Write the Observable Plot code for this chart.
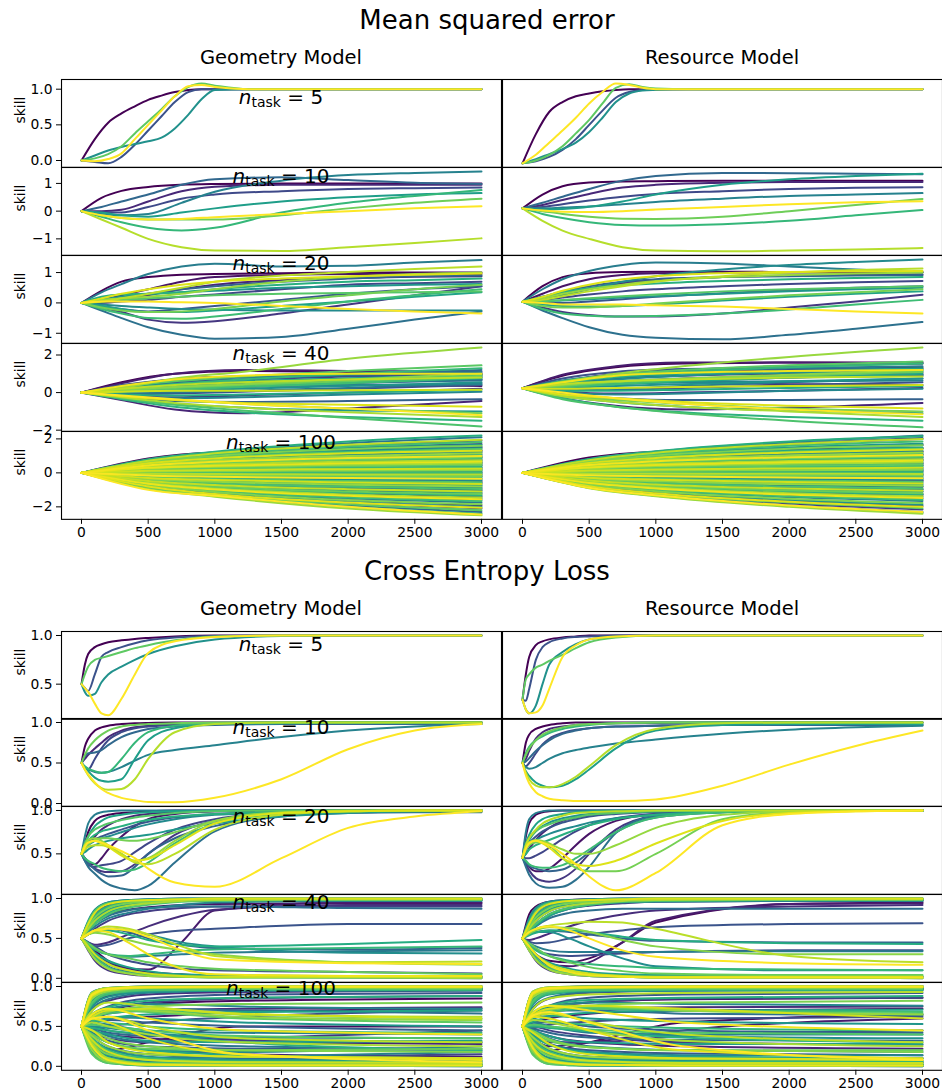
<!DOCTYPE html>
<html>
<head>
<meta charset="utf-8">
<script src="https://cdn.jsdelivr.net/npm/d3@7"></script>
<script src="https://cdn.jsdelivr.net/npm/@observablehq/plot@0.6"></script>
<style>
  body { margin: 0; background: #fff; }
  #fig { position: relative; width: 942px; height: 1090px; overflow: hidden; font-family: "DejaVu Sans", sans-serif; }
</style>
</head>
<body>
<div id="fig"></div>
<script>
// ---- training steps at which each skill curve is sampled ----
const xsA = [0,100,200,300,400,500,600,700,800,900,1000,1250,1500,2000,3000];
const xsB = [0,150,300,500,750,1000,1500,2000,2500,3000];
const xsC = [0,300,700,1200,2000,3000];
const xsD = [0,500,1000,2000,3000];
const xsE = [0,25,50,100,150,200,300,400,500,700,1000,1500,2000,2500,3000];
const xsF = [0,50,100,200,350,500,750,1000,2000,3000];
const xsG = [0,80,200,500,1200,3000];
const stepTicks = [0,500,1000,1500,2000,2500,3000];

// ---- Mean squared error, n_task = 5 ----
const mseGeo5 = [
  [0,.3,.53,.66,.76,.85,.91,.96,.99,1,1,1,1,1,1],
  [0,-.02,-.04,.05,.22,.42,.62,.82,.96,1,1,1,1,1,1],
  [0,.07,.14,.19,.23,.27,.32,.45,.64,.86,.99,1,1,1,1],
  [0,.03,.09,.2,.38,.55,.72,.9,1.03,1.08,1.05,1,1,1,1],
  [0,-.01,.02,.1,.3,.5,.7,.9,1.04,1.06,1.03,1,1,1,1]
];
const mseRes5 = [
  [-.04,.37,.68,.82,.9,.94,.97,.99,1,1,1,1,1,1,1],
  [-.04,-.01,.05,.15,.3,.5,.7,.88,.96,.99,1,1,1,1,1],
  [-.04,.02,.09,.16,.25,.4,.6,.82,.94,.98,.99,1,1,1,1],
  [-.04,0,.08,.2,.38,.57,.8,1.02,1.07,1.03,1.01,1,1,1,1],
  [-.04,.08,.25,.42,.6,.8,.96,1.08,1.06,1.02,1,1,1,1,1]
];

// ---- Mean squared error, n_task = 10 ----
const mseGeo10 = [
  [0,.48,.73,.87,.95,.98,1,1,1,1],
  [0,0,.05,.35,.72,.88,.95,.95,.95,.95],
  [0,-.05,-.05,.15,.45,.6,.72,.8,.83,.85],
  [0,.15,.35,.6,.95,1.15,1.22,1.12,1.02,.98],
  [0,-.1,-.15,-.1,.3,.7,1.1,1.3,1.38,1.43],
  [0,-.05,-.15,-.2,-.05,.1,.35,.5,.6,.65],
  [0,-.2,-.4,-.6,-.7,-.6,-.05,.3,.55,.76],
  [0,-.15,-.25,-.3,-.3,-.3,-.15,.1,.3,.45],
  [0,-.3,-.6,-1,-1.3,-1.42,-1.44,-1.3,-1.15,-.98],
  [0,-.15,-.25,-.3,-.28,-.22,-.1,0,.1,.18]
];
const mseRes10 = [
  [.1,.6,.9,1.03,1.07,1.08,1.1,1.1,1.1,1.1],
  [.1,.22,.4,.62,.85,.95,1.02,1.05,1.05,1.05],
  [.1,.15,.25,.38,.52,.62,.72,.8,.84,.86],
  [.1,.3,.52,.8,1.1,1.27,1.38,1.37,1.35,1.33],
  [.1,.1,.13,.17,.25,.33,.45,.55,.6,.65],
  [.1,.05,.08,.16,.35,.6,.95,1.15,1.27,1.35],
  [.1,-.1,-.25,-.4,-.5,-.52,-.47,-.35,-.15,.04],
  [.1,0,-.1,-.2,-.27,-.28,-.2,0,.22,.44],
  [.1,-.35,-.7,-1,-1.3,-1.42,-1.45,-1.42,-1.38,-1.33],
  [.1,.02,-.02,-.03,0,.06,.15,.25,.32,.36]
];

// ---- Mean squared error, n_task = 20 ----
const mseGeo20 = [
  [0,.4,.7,.85,.93,.95,.98,1,1,1],
  [0,.1,.25,.45,.7,.85,.92,.95,.95,.95],
  [0,.05,.1,.25,.45,.6,.75,.82,.86,.88],
  [0,-.15,-.3,-.55,-.65,-.6,-.35,-.05,.25,.55],
  [0,0,.05,.1,.2,.28,.45,.6,.65,.7],
  [0,-.1,-.2,-.28,-.2,-.1,.1,.3,.45,.55],
  [0,.05,.15,.3,.45,.55,.7,.8,.88,.9],
  [0,-.25,-.5,-.8,-1.05,-1.18,-1.12,-.85,-.55,-.28],
  [0,.35,.62,.95,1.2,1.29,1.2,1.22,1.33,1.41],
  [0,-.05,-.1,-.15,-.2,-.22,-.25,-.25,-.25,-.25],
  [0,.1,.2,.3,.35,.4,.5,.55,.6,.62],
  [0,-.1,-.2,-.3,-.3,-.25,-.1,.05,.2,.35],
  [0,.2,.28,.3,.35,.45,.6,.7,.75,.8],
  [0,-.2,-.35,-.5,-.52,-.45,-.2,.05,.25,.45],
  [0,.05,.1,.15,.2,.25,.3,.33,.35,.38],
  [0,-.15,-.25,-.3,-.28,-.2,.05,.25,.45,.6],
  [0,.1,.15,.2,.3,.45,.7,.85,.95,1],
  [0,.05,.15,.3,.5,.7,.9,1.02,1.12,1.2],
  [0,.15,.3,.45,.6,.7,.8,.88,.93,.97],
  [0,.05,.05,.05,.02,0,-.1,-.2,-.28,-.35]
];
const mseRes20 = [
  [.04,.55,.85,.98,1.02,1.03,1.03,1.02,1.02,1.02],
  [.04,.3,.55,.78,.92,.98,1,1,1,1],
  [.04,.15,.3,.48,.65,.75,.85,.9,.92,.93],
  [.04,-.15,-.3,-.4,-.45,-.45,-.35,-.15,.05,.27],
  [.04,.1,.18,.28,.38,.45,.55,.62,.68,.72],
  [.04,0,0,.05,.12,.2,.32,.42,.5,.55],
  [.04,.2,.38,.55,.7,.78,.85,.88,.9,.92],
  [.04,-.25,-.5,-.8,-1.05,-1.15,-1.2,-1.05,-.85,-.63],
  [.04,.45,.78,1.05,1.25,1.33,1.3,1.2,1.1,1],
  [.04,.1,.25,.45,.7,.88,1.1,1.25,1.35,1.43],
  [.04,.05,.08,.12,.18,.22,.3,.38,.45,.5],
  [.04,-.05,-.1,-.12,-.1,-.05,.08,.2,.3,.38],
  [.04,.2,.35,.48,.58,.64,.72,.78,.82,.85],
  [.04,-.2,-.35,-.42,-.45,-.43,-.35,-.22,-.05,.1],
  [.04,.05,.1,.15,.22,.28,.38,.45,.5,.55],
  [.04,-.1,-.15,-.15,-.1,-.02,.12,.25,.35,.45],
  [.04,.15,.3,.45,.6,.72,.85,.92,.97,1],
  [.04,.1,.22,.38,.55,.7,.88,1,1.08,1.13],
  [.04,.2,.4,.6,.78,.88,.98,1.02,1.04,1.05],
  [.04,0,-.05,-.05,-.05,-.08,-.12,-.2,-.28,-.35]
];

// ---- Mean squared error, n_task = 40 ----
const mseGeo40 = [
  [0,.55,1,1.15,1.1,1],[0,.35,.7,.85,.9,.95],[0,.1,.2,.3,.4,.35],[0,.5,1,1.2,1.15,1.1],
  [0,-.4,-.9,-1.1,-.85,-.45],[0,.2,.35,.5,.6,.7],[0,-.15,-.25,-.15,0,.2],[0,.3,.55,.7,.85,1],
  [0,.15,.3,.45,.6,.8],[0,-.1,-.05,.05,.2,.4],[0,.4,.7,.85,.9,.85],[0,.05,.15,.3,.5,.7],
  [0,-.25,-.45,-.5,-.45,-.35],[0,.25,.5,.7,.95,1.2],[0,.1,.25,.4,.55,.65],[0,-.05,0,.1,.25,.5],
  [0,.3,.6,.8,.95,1.1],[0,.2,.3,.35,.4,.45],[0,-.2,-.3,-.25,-.1,.05],[0,.15,.35,.55,.75,.9],
  [0,.05,.1,.2,.35,.55],[0,-.3,-.6,-.8,-.95,-1],[0,.25,.45,.6,.75,.95],[0,.1,.2,.35,.55,.75],
  [0,-.1,-.15,-.1,0,.15],[0,-.35,-.75,-1.05,-1.3,-1.5],[0,.2,.45,.7,1,1.3],[0,.05,.15,.3,.5,.8],
  [0,-.3,-.65,-.95,-1.35,-1.8],[0,.3,.6,.85,1.15,1.45],[0,.1,.25,.4,.6,.9],[0,-.2,-.4,-.6,-.85,-1.1],
  [0,.15,.3,.45,.7,1],[0,.25,.75,1.1,1.8,2.4],[0,-.25,-.55,-.8,-1.05,-1.3],[0,.2,.4,.55,.7,.8],
  [0,.05,.1,.1,.12,.15],[0,-.2,-.4,-.55,-.65,-.75],[0,.35,.7,.9,1,1],[0,-.15,-.35,-.6,-.85,-1.2]
];
const mseRes40 = [
  [.23,.9,1.35,1.55,1.6,1.6],[.23,.6,1,1.2,1.3,1.35],[.23,.5,.6,.55,.45,.4],[.23,.95,1.4,1.6,1.6,1.55],
  [.23,-.3,-.7,-.9,-.8,-.55],[.23,.5,.75,.9,1,1.05],[.23,.05,-.05,0,.1,.25],[.23,.6,.9,1.1,1.2,1.25],
  [.23,.45,.6,.75,.85,.95],[.23,.15,.15,.25,.4,.55],[.23,.75,1.1,1.25,1.3,1.25],[.23,.3,.45,.6,.8,.95],
  [.23,-.1,-.3,-.4,-.4,-.35],[.23,.6,.95,1.2,1.4,1.55],[.23,.35,.5,.65,.8,.9],[.23,.1,.2,.35,.55,.75],
  [.23,.65,.95,1.15,1.3,1.4],[.23,.4,.5,.55,.6,.65],[.23,0,-.1,-.05,.1,.2],[.23,.45,.7,.9,1.05,1.15],
  [.23,.25,.35,.45,.6,.75],[.23,-.2,-.5,-.75,-.95,-1.1],[.23,.55,.8,1,1.15,1.3],[.23,.3,.45,.6,.8,1],
  [.23,.1,.1,.15,.25,.35],[.23,-.3,-.75,-1.05,-1.3,-1.5],[.23,.5,.85,1.1,1.35,1.55],[.23,.3,.45,.65,.9,1.15],
  [.23,-.35,-.75,-1.1,-1.5,-1.85],[.23,.6,.95,1.2,1.45,1.65],[.23,.35,.55,.7,.9,1.1],[.23,-.15,-.4,-.6,-.85,-1],
  [.23,.4,.6,.75,.95,1.2],[.23,.55,1,1.4,1.9,2.4],[.23,-.2,-.5,-.75,-1,-1.3],[.23,.45,.6,.7,.8,.85],
  [.23,.2,.25,.3,.35,.4],[.23,-.1,-.3,-.5,-.7,-.85],[.23,.55,.9,1.05,1.15,1.2],[.23,0,-.3,-.6,-.9,-1.15]
];

// ---- Mean squared error, n_task = 100 ----
const mseGeo100 = [
  [0,.85,1.2,1.3,1.3],[0,-.3,-.42,-.55,-.6],[0,.4,.6,.8,.9],[0,-.6,-.9,-1.2,-1.4],[0,.15,.2,.27,.3],
  [0,.6,.95,1.3,1.5],[0,-.1,-.14,-.18,-.2],[0,-.7,-1.1,-1.6,-1.9],[0,.3,.4,.52,.6],[0,-.4,-.6,-.8,-.9],
  [0,.5,.72,.95,1.1],[0,.05,.03,.01,0],[0,-.5,-.78,-1.05,-1.2],[0,.2,.3,.4,.45],[0,.65,1,1.45,1.7],
  [0,-.25,-.35,-.45,-.5],[0,-.8,-1.2,-1.75,-2.1],[0,.35,.5,.65,.75],[0,.08,.1,.13,.15],[0,-.45,-.65,-.88,-1],
  [0,.55,.85,1.15,1.35],[0,-.18,-.24,-.3,-.35],[0,.25,.36,.48,.55],[0,-.65,-1,-1.38,-1.6],[0,.42,.62,.83,.95],
  [0,-.05,-.07,-.09,-.1],[0,.7,1.1,1.6,1.9],[0,-.35,-.5,-.66,-.75],[0,.12,.17,.22,.25],[0,-.55,-.82,-1.12,-1.3],
  [0,.5,.78,1.05,1.2],[0,.02,.03,.04,.05],[0,-.85,-1.3,-1.9,-2.3],[0,.3,.43,.57,.65],[0,-.2,-.3,-.4,-.45],
  [0,.62,.98,1.35,1.55],[0,-.45,-.68,-.92,-1.05],[0,.18,.26,.35,.4],[0,-.12,-.17,-.22,-.25],[0,.75,1.2,1.75,2.1],
  [0,-.7,-1.1,-1.5,-1.75],[0,.36,.52,.7,.8],[0,-.28,-.4,-.53,-.6],[0,.1,.14,.18,.2],[0,.45,.66,.88,1],
  [0,-.62,-.95,-1.3,-1.5],[0,-.02,-.03,-.04,-.05],[0,.52,.8,1.1,1.25],[0,-.38,-.56,-.75,-.85],[0,.22,.33,.44,.5],
  [0,-.75,-1.15,-1.7,-2],[0,.65,1.02,1.45,1.65],[0,.05,.07,.09,.1],[0,-.18,-.27,-.35,-.4],[0,.32,.46,.61,.7],
  [0,-.5,-.74,-1,-1.15],[0,.6,.92,1.27,1.45],[0,-.07,-.1,-.13,-.15],[0,.16,.23,.3,.35],[0,-.9,-1.35,-2,-2.4],
  [0,.38,.56,.75,.85],[0,-.3,-.45,-.6,-.7],[0,.8,1.25,1.85,2.2],[0,-.55,-.85,-1.17,-1.35],[0,.27,.39,.52,.6],
  [0,-.14,-.2,-.26,-.3],[0,.46,.68,.92,1.05],[0,0,.01,0,0],[0,-.68,-1.05,-1.45,-1.65],[0,.7,1.1,1.55,1.8],
  [0,-.42,-.62,-.82,-.95],[0,.14,.2,.26,.3],[0,-.25,-.36,-.48,-.55],[0,.58,.9,1.22,1.4],[0,-.85,-1.3,-1.85,-2.2],
  [0,.2,.29,.39,.45],[0,-.52,-.8,-1.1,-1.25],[0,.4,.58,.78,.9],[0,-.09,-.13,-.17,-.2],[0,.64,1,1.4,1.6],
  [0,-.72,-1.12,-1.6,-1.85],[0,.07,.1,.13,.15],[0,-.36,-.52,-.7,-.8],[0,.5,.74,1,1.15],[0,-.95,-1.4,-2.1,-2.5],
  [0,.25,.36,.48,.55],[0,-.6,-.92,-1.27,-1.45],[0,.34,.49,.66,.75],[0,-.05,-.07,-.09,-.1],[0,.72,1.15,1.65,1.95],
  [0,-.48,-.72,-.96,-1.1],[0,.12,.17,.22,.25],[0,-.3,-.42,-.57,-.65],[0,.56,.85,1.15,1.3],[0,-.8,-1.25,-1.75,-2.05],
  [0,.3,.42,.57,.65],[0,-.64,-.98,-1.35,-1.55],[0,.44,.65,.88,1],[0,-.16,-.23,-.3,-.35],[0,-1,-1.35,-2,-2.45]
];
const mseRes100 = [
  [0,.9,1.25,1.4,1.45],[0,-.2,-.3,-.4,-.45],[0,.45,.7,.95,1.1],[0,-.55,-.85,-1.15,-1.3],[0,.2,.3,.4,.45],
  [0,.7,1.05,1.45,1.65],[0,-.05,-.08,-.1,-.12],[0,-.75,-1.15,-1.65,-1.95],[0,.35,.5,.68,.78],[0,-.35,-.55,-.72,-.82],
  [0,.55,.82,1.1,1.25],[0,.08,.1,.12,.13],[0,-.45,-.7,-.95,-1.1],[0,.25,.36,.48,.55],[0,.78,1.2,1.7,2],
  [0,-.22,-.32,-.42,-.48],[0,-.82,-1.25,-1.8,-2.15],[0,.4,.6,.8,.92],[0,.1,.14,.18,.2],[0,-.42,-.62,-.85,-.97],
  [0,.6,.92,1.25,1.45],[0,-.15,-.22,-.28,-.32],[0,.28,.4,.53,.6],[0,-.62,-.95,-1.3,-1.5],[0,.46,.68,.92,1.05],
  [0,-.04,-.05,-.07,-.08],[0,.75,1.15,1.7,2.05],[0,-.32,-.48,-.63,-.72],[0,.14,.2,.26,.3],[0,-.52,-.8,-1.08,-1.25],
  [0,.52,.8,1.08,1.25],[0,.04,.05,.06,.07],[0,-.85,-1.3,-1.9,-2.3],[0,.33,.48,.64,.73],[0,-.18,-.26,-.35,-.4],
  [0,.66,1.02,1.42,1.62],[0,-.42,-.64,-.86,-.98],[0,.2,.29,.39,.45],[0,-.1,-.14,-.19,-.22],[0,.8,1.25,1.8,2.2],
  [0,-.66,-1.02,-1.42,-1.65],[0,.38,.56,.75,.86],[0,-.26,-.38,-.5,-.57],[0,.12,.17,.22,.25],[0,.48,.7,.93,1.07],
  [0,-.58,-.9,-1.22,-1.4],[0,-.01,-.02,-.02,-.02],[0,.56,.85,1.15,1.32],[0,-.36,-.53,-.7,-.8],[0,.24,.35,.47,.54],
  [0,-.72,-1.1,-1.6,-1.88],[0,.68,1.05,1.5,1.72],[0,.07,.09,.12,.13],[0,-.16,-.24,-.31,-.36],[0,.34,.5,.66,.76],
  [0,-.48,-.72,-.96,-1.1],[0,.62,.95,1.32,1.5],[0,-.06,-.08,-.11,-.13],[0,.18,.26,.34,.39],[0,-.88,-1.35,-1.95,-2.35],
  [0,.4,.6,.8,.92],[0,-.28,-.42,-.56,-.65],[0,.82,1.28,1.85,2.15],[0,-.52,-.8,-1.1,-1.27],[0,.3,.44,.58,.67],
  [0,-.12,-.18,-.24,-.28],[0,.5,.74,.98,1.12],[0,.02,.03,.03,.04],[0,-.64,-1,-1.38,-1.58],[0,.72,1.12,1.6,1.85],
  [0,-.4,-.6,-.8,-.92],[0,.16,.23,.3,.35],[0,-.23,-.34,-.45,-.52],[0,.6,.92,1.25,1.42],[0,-.8,-1.24,-1.75,-2.08],
  [0,.22,.32,.42,.48],[0,-.5,-.76,-1.04,-1.2],[0,.43,.64,.85,.97],[0,-.08,-.11,-.15,-.17],[0,.66,1.02,1.42,1.62],
  [0,-.7,-1.08,-1.52,-1.78],[0,.09,.12,.16,.18],[0,-.33,-.5,-.66,-.76],[0,.52,.78,1.04,1.2],[0,-.9,-1.38,-2,-2.4],
  [0,.27,.4,.53,.61],[0,-.56,-.86,-1.2,-1.38],[0,.36,.53,.7,.8],[0,-.03,-.04,-.05,-.06],[0,.75,1.18,1.7,2],
  [0,-.45,-.68,-.92,-1.05],[0,.14,.2,.26,.3],[0,-.28,-.4,-.54,-.62],[0,.58,.88,1.2,1.38],[0,-.78,-1.2,-1.7,-2],
  [0,.32,.46,.62,.71],[0,-.6,-.92,-1.28,-1.48],[0,.46,.68,.92,1.05],[0,-.14,-.2,-.27,-.31],[0,-.88,-1.32,-1.92,-2.3]
];

// ---- Cross entropy loss, n_task = 5 ----
const ceGeo5 = [
  [.5,.7,.81,.88,.91,.93,.95,.965,.975,.99,1,1,1,1,1],
  [.5,.46,.43,.6,.78,.83,.88,.92,.95,.98,.995,1,1,1,1],
  [.5,.42,.38,.4,.52,.6,.68,.75,.81,.89,.96,.995,1,1,1],
  [.5,.6,.68,.75,.77,.79,.83,.87,.9,.95,.99,1,1,1,1],
  [.5,.46,.42,.3,.2,.18,.35,.6,.82,.94,.985,1,1,1,1]
];
const ceRes5 = [
  [.34,.6,.78,.9,.94,.96,.98,.99,1,1,1,1,1,1,1],
  [.34,.33,.45,.75,.88,.93,.97,.985,.99,1,1,1,1,1,1],
  [.34,.24,.2,.28,.5,.7,.83,.91,.96,.99,1,1,1,1,1],
  [.34,.55,.6,.67,.7,.74,.8,.87,.93,.98,1,1,1,1,1],
  [.34,.24,.2,.21,.28,.45,.78,.9,.96,.99,1,1,1,1,1]
];

// ---- Cross entropy loss, n_task = 10 ----
const ceGeo10 = [
  [.5,.7,.8,.9,.94,.96,.98,.99,.995,1,1,1,1,1,1],
  [.5,.55,.6,.68,.75,.82,.9,.94,.96,.98,.99,1,1,1,1],
  [.5,.45,.42,.55,.68,.78,.88,.93,.95,.97,.98,.99,.99,1,1],
  [.5,.58,.62,.63,.66,.72,.82,.88,.92,.95,.97,.98,.98,.98,.98],
  [.5,.45,.42,.39,.38,.39,.45,.53,.6,.66,.72,.82,.9,.95,.98],
  [.5,.45,.4,.32,.28,.27,.3,.55,.78,.93,.98,.99,1,1,1],
  [.5,.46,.43,.4,.38,.39,.55,.75,.88,.96,.99,1,1,1,1],
  [.5,.6,.68,.78,.85,.9,.95,.97,.98,.99,1,1,1,1,1],
  [.5,.42,.35,.25,.19,.17,.18,.3,.55,.88,.98,1,1,1,1],
  [.5,.42,.36,.26,.18,.13,.07,.04,.02,.015,.07,.3,.67,.9,.98]
];
const ceRes10 = [
  [.5,.75,.85,.92,.95,.97,.99,1,1,1,1,1,1,1,1],
  [.5,.55,.65,.8,.88,.92,.95,.97,.98,.99,.99,1,1,1,1],
  [.5,.46,.5,.62,.73,.8,.87,.91,.93,.95,.96,.97,.97,.97,.97],
  [.5,.52,.56,.65,.72,.78,.86,.9,.93,.95,.96,.97,.97,.97,.97],
  [.5,.45,.43,.45,.5,.55,.62,.66,.69,.74,.79,.86,.91,.94,.96],
  [.5,.4,.34,.26,.22,.2,.22,.3,.42,.68,.9,.97,.98,.98,.98],
  [.5,.62,.7,.78,.83,.87,.92,.95,.97,.99,1,1,1,1,1],
  [.5,.6,.68,.78,.85,.89,.94,.97,.98,.99,1,1,1,1,1],
  [.5,.38,.3,.22,.2,.2,.24,.33,.46,.72,.92,.99,1,1,1],
  [.5,.35,.25,.14,.09,.06,.04,.03,.03,.03,.05,.22,.48,.71,.9]
];

// ---- Cross entropy loss, n_task = 20 ----
const ceGeo20 = [
  [.5,.62,.75,.88,.93,.95,.97,.98,.99,1,1,1,1,1,1],
  [.5,.45,.4,.38,.45,.55,.7,.82,.9,.96,.99,1,1,1,1],
  [.5,.55,.6,.7,.78,.83,.9,.94,.96,.98,.99,1,1,1,1],
  [.5,.45,.4,.33,.3,.29,.3,.38,.5,.72,.88,.96,.98,.99,.99],
  [.5,.42,.37,.35,.37,.38,.42,.52,.62,.78,.9,.97,.99,1,1],
  [.5,.58,.63,.67,.7,.73,.78,.83,.87,.92,.96,.98,.99,.99,.99],
  [.5,.45,.4,.32,.27,.24,.25,.35,.5,.68,.82,.93,.97,.98,.98],
  [.5,.42,.35,.27,.2,.15,.1,.08,.13,.4,.76,.94,.99,1,1],
  [.5,.7,.85,.95,.98,.99,1,1,1,1,1,1,1,1,1],
  [.5,.55,.6,.65,.68,.7,.75,.8,.84,.9,.95,.98,.99,1,1],
  [.5,.52,.55,.6,.63,.65,.68,.7,.72,.78,.85,.93,.97,.99,.99],
  [.5,.6,.7,.82,.88,.92,.95,.97,.98,.99,1,1,1,1,1],
  [.5,.58,.65,.72,.76,.78,.82,.86,.89,.93,.96,.98,.99,.99,.99],
  [.5,.45,.42,.38,.34,.32,.3,.32,.4,.62,.85,.96,.99,1,1],
  [.5,.62,.7,.78,.82,.85,.89,.92,.94,.97,.99,1,1,1,1],
  [.5,.55,.6,.66,.68,.68,.66,.65,.67,.75,.88,.97,.99,1,1],
  [.5,.6,.66,.68,.65,.6,.5,.42,.45,.65,.88,.98,1,1,1],
  [.5,.55,.58,.6,.6,.58,.5,.4,.38,.5,.78,.95,.99,1,1],
  [.5,.6,.63,.65,.62,.58,.48,.42,.44,.6,.85,.97,.99,1,1],
  [.5,.58,.63,.65,.63,.6,.53,.45,.33,.17,.12,.45,.8,.93,.99]
];
const ceRes20 = [
  [.455,.7,.85,.95,.98,.99,1,1,1,1,1,1,1,1,1],
  [.455,.4,.35,.3,.3,.33,.45,.6,.73,.88,.96,.99,1,1,1],
  [.455,.5,.56,.66,.74,.8,.88,.92,.95,.97,.99,1,1,1,1],
  [.455,.38,.31,.22,.19,.18,.22,.33,.5,.78,.94,.99,1,1,1],
  [.455,.45,.45,.48,.52,.57,.67,.76,.83,.91,.96,.99,1,1,1],
  [.455,.55,.62,.7,.76,.8,.86,.9,.93,.96,.98,.99,1,1,1],
  [.455,.4,.36,.33,.31,.3,.32,.4,.52,.75,.92,.98,1,1,1],
  [.455,.35,.26,.16,.12,.11,.12,.2,.35,.74,.94,.99,1,1,1],
  [.455,.75,.9,.97,.99,1,1,1,1,1,1,1,1,1,1],
  [.455,.55,.6,.66,.7,.73,.78,.82,.86,.91,.95,.98,.99,1,1],
  [.455,.58,.66,.76,.82,.86,.91,.94,.96,.98,.99,1,1,1,1],
  [.455,.62,.72,.84,.9,.93,.96,.98,.99,1,1,1,1,1,1],
  [.455,.5,.55,.6,.63,.66,.72,.78,.83,.9,.95,.98,.99,1,1],
  [.455,.42,.38,.35,.34,.34,.37,.45,.55,.75,.92,.98,1,1,1],
  [.455,.6,.68,.76,.81,.84,.89,.92,.95,.97,.99,1,1,1,1],
  [.455,.55,.6,.63,.63,.6,.45,.34,.3,.3,.5,.9,.98,1,1],
  [.455,.58,.63,.66,.65,.62,.55,.5,.5,.6,.8,.95,.99,1,1],
  [.455,.6,.68,.78,.85,.89,.94,.97,.98,.99,1,1,1,1,1],
  [.455,.57,.63,.65,.62,.57,.45,.38,.36,.42,.62,.88,.97,.99,1],
  [.455,.56,.62,.65,.63,.6,.5,.38,.24,.08,.28,.83,.96,.99,1]
];

// ---- Cross entropy loss, n_task = 40 ----
const ceGeo40 = [
  [.5,.7,.82,.92,.96,.97,.98,.98,.98,.98],[.5,.42,.35,.22,.12,.08,.05,.03,.02,.02],
  [.5,.6,.7,.8,.86,.89,.92,.93,.94,.94],[.5,.4,.32,.2,.12,.11,.45,.85,.95,.95],
  [.5,.65,.78,.9,.95,.97,.98,.99,.99,.99],[.5,.45,.42,.45,.55,.65,.78,.86,.92,.92],
  [.5,.35,.22,.1,.05,.03,.02,.02,.02,.02],[.5,.55,.62,.72,.8,.84,.88,.9,.9,.9],
  [.5,.62,.72,.85,.92,.95,.97,.98,.99,.99],[.5,.45,.4,.3,.22,.17,.12,.1,.08,.06],
  [.5,.42,.4,.42,.5,.55,.6,.62,.68,.68],[.5,.68,.8,.9,.94,.96,.97,.98,.98,.98],
  [.5,.55,.6,.62,.58,.5,.42,.38,.36,.38],[.5,.38,.28,.15,.08,.05,.03,.02,.01,0],
  [.5,.6,.68,.78,.85,.88,.9,.9,.88,.87],[.5,.7,.85,.95,.98,.99,1,1,1,1],
  [.5,.45,.38,.3,.27,.28,.3,.32,.34,.35],[.5,.58,.65,.75,.82,.87,.92,.95,.97,.97],
  [.5,.4,.3,.18,.1,.06,.04,.03,.02,.02],[.5,.55,.6,.62,.6,.55,.45,.4,.32,.31],
  [.5,.72,.86,.95,.98,.99,1,1,1,1],[.5,.62,.74,.86,.92,.95,.97,.98,.98,.98],
  [.5,.4,.32,.22,.14,.09,.05,.04,.03,.03],[.5,.6,.7,.82,.9,.94,.97,.98,.99,.99],
  [.5,.55,.58,.6,.55,.48,.42,.4,.43,.48],[.5,.66,.78,.9,.95,.97,.98,.99,.99,.99],
  [.5,.42,.36,.3,.28,.3,.34,.36,.38,.4],[.5,.38,.27,.14,.07,.04,.02,.01,.01,.01],
  [.5,.6,.68,.8,.88,.92,.96,.97,.98,.98],[.5,.7,.84,.94,.97,.98,.99,1,1,1],
  [.5,.44,.38,.3,.25,.2,.15,.12,.08,.05],[.5,.64,.76,.88,.94,.96,.98,.99,.99,.99],
  [.5,.55,.57,.55,.48,.42,.35,.3,.2,.17],[.5,.36,.24,.12,.06,.03,.02,.01,.01,0],
  [.5,.62,.72,.84,.91,.94,.97,.98,.99,.99],[.5,.55,.6,.65,.62,.55,.4,.28,.2,.21],
  [.5,.4,.3,.18,.1,.06,.03,.02,.02,.02],[.5,.68,.82,.93,.97,.98,.99,1,1,1],
  [.5,.55,.6,.58,.45,.3,.12,.05,.03,.03],[.5,.56,.6,.62,.6,.52,.35,.24,.19,.18]
];
const ceRes40 = [
  [.5,.8,.9,.96,.98,.99,.99,.99,.99,.99],[.5,.38,.3,.22,.2,.25,.45,.7,.93,.95],
  [.5,.65,.78,.9,.95,.97,.98,.99,.99,.99],[.5,.4,.3,.18,.15,.2,.45,.72,.93,.94],
  [.5,.7,.84,.94,.97,.98,.99,.99,.99,.99],[.5,.48,.5,.56,.65,.72,.8,.85,.9,.92],
  [.5,.35,.22,.1,.05,.03,.02,.02,.02,.02],[.5,.58,.66,.78,.87,.91,.94,.96,.97,.97],
  [.5,.62,.72,.84,.91,.94,.96,.97,.98,.98],[.5,.42,.36,.3,.28,.29,.31,.33,.35,.35],
  [.5,.46,.44,.45,.5,.55,.6,.64,.68,.69],[.5,.7,.82,.92,.96,.97,.98,.99,.99,.99],
  [.5,.55,.58,.6,.58,.55,.5,.47,.45,.45],[.5,.36,.24,.12,.06,.03,.02,.01,.01,0],
  [.5,.58,.65,.75,.82,.85,.87,.87,.87,.87],[.5,.72,.86,.95,.98,.99,1,1,1,1],
  [.5,.44,.4,.35,.33,.33,.33,.33,.34,.34],[.5,.6,.68,.8,.88,.92,.95,.96,.97,.97],
  [.5,.38,.28,.15,.08,.05,.03,.02,.02,.02],[.5,.55,.58,.58,.5,.4,.25,.15,.1,.1],
  [.5,.75,.88,.96,.98,.99,1,1,1,1],[.5,.62,.74,.86,.92,.95,.97,.98,.98,.98],
  [.5,.4,.3,.2,.12,.08,.05,.04,.03,.03],[.5,.58,.66,.78,.87,.92,.96,.97,.98,.98],
  [.5,.54,.57,.6,.6,.58,.52,.48,.44,.43],[.5,.66,.78,.9,.95,.97,.98,.99,.99,.99],
  [.5,.42,.35,.28,.22,.18,.15,.13,.11,.1],[.5,.36,.25,.13,.07,.04,.02,.01,.01,.01],
  [.5,.6,.68,.8,.88,.92,.96,.97,.98,.98],[.5,.7,.84,.94,.97,.98,.99,1,1,1],
  [.5,.44,.38,.28,.2,.14,.09,.06,.04,.04],[.5,.64,.76,.88,.94,.96,.98,.99,.99,.99],
  [.5,.56,.6,.64,.63,.58,.48,.4,.3,.3],[.5,.35,.23,.11,.05,.03,.02,.01,.01,0],
  [.5,.62,.72,.84,.91,.94,.97,.98,.99,.99],[.5,.58,.62,.66,.69,.71,.7,.62,.28,.2],
  [.5,.4,.3,.18,.1,.06,.03,.02,.02,.02],[.5,.68,.82,.93,.97,.98,.99,1,1,1],
  [.5,.4,.3,.16,.08,.04,.02,.01,.01,.01],[.5,.58,.62,.65,.6,.5,.35,.27,.19,.17]
];

// ---- Cross entropy loss, n_task = 100 ----
const ceGeo100 = [
  [.5,.8,.92,.96,.97,.97],[.5,.3,.15,.06,.03,.02],[.5,.6,.7,.78,.82,.85],[.5,.35,.2,.3,.5,.5],[.5,.85,.95,.98,.99,.99],
  [.5,.25,.08,.02,.01,.01],[.5,.55,.6,.62,.68,.72],[.5,.4,.3,.2,.15,.12],[.5,.75,.88,.94,.96,.96],[.5,.2,.06,.02,.01,.01],
  [.5,.45,.4,.35,.3,.28],[.5,.9,.97,.99,1,1],[.5,.58,.66,.7,.72,.74],[.5,.3,.14,.06,.04,.03],[.5,.7,.82,.9,.93,.95],
  [.5,.42,.35,.3,.35,.45],[.5,.88,.96,.99,.99,.99],[.5,.25,.1,.04,.02,.02],[.5,.5,.45,.4,.33,.3],[.5,.8,.92,.97,.98,.98],
  [.5,.35,.22,.15,.12,.15],[.5,.62,.7,.8,.85,.88],[.5,.2,.05,.01,.01,0],[.5,.45,.5,.55,.62,.7],[.5,.92,.98,1,1,1],
  [.5,.3,.18,.1,.08,.06],[.5,.65,.75,.85,.9,.92],[.5,.4,.32,.25,.22,.2],[.5,.85,.94,.97,.98,.98],[.5,.18,.05,.02,.01,.01],
  [.5,.55,.58,.55,.5,.45],[.5,.78,.9,.95,.97,.97],[.5,.28,.12,.05,.03,.03],[.5,.48,.42,.38,.36,.35],[.5,.9,.97,.99,1,1],
  [.5,.38,.25,.15,.1,.08],[.5,.6,.68,.72,.7,.66],[.5,.22,.07,.02,.01,.01],[.5,.72,.84,.92,.95,.96],[.5,.45,.38,.3,.25,.22],
  [.5,.88,.96,.98,.99,.99],[.5,.32,.18,.1,.12,.18],[.5,.55,.52,.45,.42,.4],[.5,.8,.91,.96,.97,.97],[.5,.25,.1,.04,.02,.02],
  [.5,.62,.72,.78,.75,.72],[.5,.42,.3,.2,.18,.25],[.5,.93,.98,1,1,1],[.5,.2,.06,.02,.01,.01],[.5,.5,.48,.42,.35,.3],
  [.5,.75,.87,.93,.95,.95],[.5,.35,.22,.12,.08,.07],[.5,.6,.62,.6,.55,.5],[.5,.88,.96,.99,.99,.99],[.5,.28,.12,.05,.03,.02],
  [.5,.45,.4,.32,.3,.32],[.5,.82,.93,.97,.98,.98],[.5,.18,.04,.01,.01,0],[.5,.55,.6,.65,.68,.7],[.5,.4,.3,.2,.14,.1],
  [.5,.9,.97,.99,1,1],[.5,.3,.15,.08,.06,.05],[.5,.65,.74,.82,.86,.88],[.5,.48,.45,.4,.3,.2],[.5,.85,.95,.98,.99,.99],
  [.5,.22,.08,.03,.02,.02],[.5,.58,.55,.5,.45,.42],[.5,.78,.9,.95,.96,.96],[.5,.35,.2,.1,.06,.05],[.5,.6,.66,.7,.65,.6],
  [.5,.92,.98,1,1,1],[.5,.25,.1,.04,.03,.02],[.5,.52,.5,.45,.38,.35],[.5,.8,.92,.96,.97,.97],[.5,.15,.04,.01,.01,.01],
  [.5,.62,.7,.68,.6,.55],[.5,.4,.3,.22,.2,.22],[.5,.88,.96,.99,.99,.99],[.5,.3,.15,.08,.05,.04],[.5,.6,.68,.75,.78,.8],
  [.5,.45,.35,.25,.2,.18],[.5,.9,.97,.99,1,1],[.5,.2,.06,.02,.01,.01],[.5,.66,.72,.7,.62,.58],[.5,.38,.25,.15,.12,.1],
  [.5,.85,.94,.98,.99,.99],[.5,.55,.5,.4,.3,.25],[.5,.28,.1,.03,.02,.02],[.5,.7,.8,.75,.65,.62],[.5,.6,.62,.5,.35,.3],
  [.5,.92,.98,1,1,1],[.5,.33,.18,.08,.05,.04],[.5,.62,.7,.72,.66,.6],[.5,.45,.3,.18,.12,.1],[.5,.88,.96,.99,.99,.99],
  [.5,.6,.55,.35,.15,.08],[.5,.25,.08,.02,.01,.01],[.5,.65,.72,.6,.45,.4],[.5,.9,.97,.99,1,1],[.5,.6,.62,.45,.15,.05]
];
const ceRes100 = [
  [.5,.85,.95,.98,.99,.99],[.5,.25,.1,.04,.02,.02],[.5,.65,.75,.8,.84,.86],[.5,.3,.2,.3,.55,.65],[.5,.9,.97,.99,1,1],
  [.5,.2,.06,.02,.01,.01],[.5,.55,.6,.66,.7,.72],[.5,.35,.25,.3,.45,.6],[.5,.8,.92,.96,.97,.97],[.5,.18,.05,.02,.01,.01],
  [.5,.45,.38,.3,.25,.22],[.5,.92,.98,1,1,1],[.5,.6,.68,.72,.74,.75],[.5,.28,.14,.08,.05,.04],[.5,.72,.85,.92,.95,.96],
  [.5,.4,.3,.3,.38,.45],[.5,.9,.97,.99,.99,.99],[.5,.22,.08,.03,.02,.02],[.5,.5,.45,.38,.3,.27],[.5,.82,.93,.97,.98,.98],
  [.5,.32,.2,.12,.1,.1],[.5,.64,.72,.8,.85,.86],[.5,.18,.04,.01,.01,0],[.5,.48,.52,.56,.6,.62],[.5,.93,.98,1,1,1],
  [.5,.28,.15,.08,.06,.05],[.5,.66,.76,.86,.9,.92],[.5,.38,.28,.2,.16,.14],[.5,.86,.95,.98,.98,.98],[.5,.16,.04,.01,.01,.01],
  [.5,.55,.55,.5,.45,.42],[.5,.8,.91,.96,.97,.97],[.5,.26,.1,.04,.03,.03],[.5,.47,.42,.36,.33,.32],[.5,.92,.98,.99,1,1],
  [.5,.36,.22,.12,.08,.07],[.5,.62,.7,.7,.66,.64],[.5,.2,.06,.02,.01,.01],[.5,.74,.86,.93,.95,.96],[.5,.44,.35,.25,.2,.18],
  [.5,.9,.97,.98,.99,.99],[.5,.3,.15,.08,.08,.1],[.5,.55,.5,.42,.4,.4],[.5,.82,.93,.97,.97,.97],[.5,.22,.08,.03,.02,.02],
  [.5,.64,.74,.8,.78,.76],[.5,.4,.28,.18,.14,.14],[.5,.94,.99,1,1,1],[.5,.18,.05,.01,.01,.01],[.5,.52,.5,.44,.38,.35],
  [.5,.78,.9,.94,.95,.95],[.5,.33,.2,.1,.07,.06],[.5,.6,.63,.6,.56,.53],[.5,.9,.97,.99,.99,.99],[.5,.26,.1,.04,.03,.02],
  [.5,.45,.38,.3,.28,.28],[.5,.84,.94,.97,.98,.98],[.5,.16,.03,.01,.01,0],[.5,.56,.62,.67,.7,.71],[.5,.38,.27,.17,.12,.1],
  [.5,.92,.98,.99,1,1],[.5,.28,.13,.06,.05,.05],[.5,.66,.76,.83,.86,.88],[.5,.5,.48,.44,.36,.3],[.5,.87,.96,.98,.99,.99],
  [.5,.2,.06,.02,.02,.02],[.5,.58,.56,.52,.48,.45],[.5,.8,.91,.95,.96,.96],[.5,.33,.18,.08,.05,.05],[.5,.62,.68,.72,.7,.68],
  [.5,.93,.98,1,1,1],[.5,.23,.08,.03,.02,.02],[.5,.52,.5,.46,.42,.4],[.5,.82,.93,.96,.97,.97],[.5,.14,.03,.01,.01,.01],
  [.5,.64,.72,.74,.7,.66],[.5,.42,.32,.24,.2,.2],[.5,.9,.97,.99,.99,.99],[.5,.28,.13,.06,.04,.03],[.5,.62,.7,.76,.8,.82],
  [.5,.44,.34,.24,.2,.18],[.5,.92,.98,.99,1,1],[.5,.18,.05,.02,.01,.01],[.5,.68,.76,.76,.7,.65],[.5,.36,.22,.12,.09,.08],
  [.5,.87,.95,.98,.99,.99],[.5,.58,.55,.45,.32,.25],[.5,.24,.08,.02,.01,.01],[.5,.72,.85,.9,.92,.93],[.5,.62,.66,.56,.4,.3],
  [.5,.94,.99,1,1,1],[.5,.3,.16,.07,.04,.04],[.5,.64,.72,.76,.72,.6],[.5,.42,.28,.15,.1,.08],[.5,.9,.97,.99,.99,.99],
  [.5,.62,.6,.45,.2,.1],[.5,.22,.06,.02,.01,.01],[.5,.67,.76,.7,.55,.45],[.5,.92,.98,.99,1,1],[.5,.64,.68,.55,.25,.08]
];

// ---- figure text ----
const figureTitles = ["Mean squared error", "Cross Entropy Loss"];
const modelNames = ["Geometry Model", "Resource Model"];
const taskCounts = [5, 10, 20, 40, 100];
const yLabel = "skill";

// ---- layout of the two stacked figures ----
const groups = [
  {
    title: figureTitles[0], titleY: 29, colY: 64, top: 79.3, step: 87.85,
    labelY: [104.3, 182.7, 270.3, 360.3, 448.7],
    rows: [
      {xs: xsA, geo: mseGeo5, res: mseRes5, ticks: [0, .5, 1], fmt: ".1f"},
      {xs: xsB, geo: mseGeo10, res: mseRes10, ticks: [-1, 0, 1], fmt: "d"},
      {xs: xsB, geo: mseGeo20, res: mseRes20, ticks: [-1, 0, 1], fmt: "d"},
      {xs: xsC, geo: mseGeo40, res: mseRes40, ticks: [-2, 0, 2], fmt: "d"},
      {xs: xsD, geo: mseGeo100, res: mseRes100, ticks: [-2, 0, 2], fmt: "d"}
    ]
  },
  {
    title: figureTitles[1], titleY: 580.3, colY: 615.3, top: 630.6, step: 87.8,
    labelY: [651, 734, 822.7, 908.7, 995],
    rows: [
      {xs: xsE, geo: ceGeo5, res: ceRes5, ticks: [.5, 1], fmt: ".1f"},
      {xs: xsE, geo: ceGeo10, res: ceRes10, ticks: [0, .5, 1], fmt: ".1f"},
      {xs: xsE, geo: ceGeo20, res: ceRes20, ticks: [.5, 1], fmt: ".1f"},
      {xs: xsF, geo: ceGeo40, res: ceRes40, ticks: [0, .5, 1], fmt: ".1f"},
      {xs: xsG, geo: ceGeo100, res: ceRes100, ticks: [0, .5, 1], fmt: ".1f"}
    ]
  }
];

const fig = document.getElementById("fig");
const FONT = "DejaVu Sans";

function toRows(lines, xs) {
  const rows = [];
  lines.forEach((vals, k) => vals.forEach((v, j) => rows.push({x: xs[j], y: v, k})));
  return rows;
}

function paddedDomain(a, b) {
  const all = a.flat().concat(b.flat());
  const lo = d3.min(all), hi = d3.max(all), m = (hi - lo) * 0.05;
  return [lo - m, hi + m];
}

function drawPanel({lines, xs, n, domain, ticks, fmt, left, top, height, bottom}) {
  const isLeft = left;
  const mb = bottom ? 30 : 0;
  const svg = Plot.plot({
    width: isLeft ? 502 : 441,
    height: height + mb,
    marginLeft: isLeft ? 61 : 1,
    marginRight: isLeft ? 1 : 0,
    marginTop: 0,
    marginBottom: mb,
    style: {fontFamily: FONT, fontSize: "13.9px", background: "transparent", overflow: "visible", color: "black"},
    x: {domain: [-150, 3150], ticks: stepTicks, tickFormat: d3.format("d"), tickSize: 5, tickPadding: 2.5, label: null, axis: bottom ? "bottom" : null},
    y: {domain, ticks, tickFormat: d3.format(fmt), tickSize: 5, tickPadding: 4, label: null, axis: isLeft ? "left" : null},
    color: {type: "linear", scheme: "viridis", domain: [0, n - 1]},
    marks: [
      Plot.line(toRows(lines, xs), {x: "x", y: "y", z: "k", stroke: "k", strokeWidth: 2, curve: "monotone-x"}),
      Plot.frame({stroke: "black", strokeWidth: 1.1}),
      ...(isLeft ? [Plot.text([yLabel], {frameAnchor: "left", dx: -41, rotate: -90, text: d => d, fontSize: 13.9, fill: "black"})] : [])
    ]
  });
  svg.style.position = "absolute";
  svg.style.left = (isLeft ? 0 : 501) + "px";
  svg.style.top = top + "px";
  svg.style.maxWidth = "none";
  fig.appendChild(svg);
}

groups.forEach(g => {
  g.rows.forEach((r, i) => {
    const n = taskCounts[i];
    const domain = paddedDomain(r.geo, r.res);
    const top = g.top + i * g.step;
    const bottom = i === g.rows.length - 1;
    drawPanel({lines: r.geo, xs: r.xs, n, domain, ticks: r.ticks, fmt: r.fmt, left: true, top, height: g.step, bottom});
    drawPanel({lines: r.res, xs: r.xs, n, domain, ticks: r.ticks, fmt: r.fmt, left: false, top, height: g.step, bottom});
  });
});

// titles, column headings and n_task annotations drawn on top
const ov = d3.select(fig).append("svg")
  .attr("width", 942).attr("height", 1090)
  .style("position", "absolute").style("left", "0px").style("top", "0px")
  .style("pointer-events", "none").style("font-family", FONT).style("white-space", "pre");

groups.forEach(g => {
  ov.append("text").attr("x", 487).attr("y", g.titleY).attr("text-anchor", "middle")
    .attr("font-size", 26).attr("fill", "black").text(g.title);
  ov.append("text").attr("x", 281).attr("y", g.colY).attr("text-anchor", "middle")
    .attr("font-size", 19.5).attr("fill", "black").text(modelNames[0]);
  ov.append("text").attr("x", 722).attr("y", g.colY).attr("text-anchor", "middle")
    .attr("font-size", 19.5).attr("fill", "black").text(modelNames[1]);
  g.labelY.forEach((y, i) => {
    const t = ov.append("text").attr("x", 281).attr("y", y).attr("text-anchor", "middle")
      .attr("font-size", 20).attr("fill", "black");
    t.append("tspan").attr("font-style", "italic").text("n");
    t.append("tspan").attr("font-size", 14).attr("dy", 3).text("task");
    t.append("tspan").attr("dy", -3).text(" = " + taskCounts[i]);
  });
});
</script>
</body>
</html>
